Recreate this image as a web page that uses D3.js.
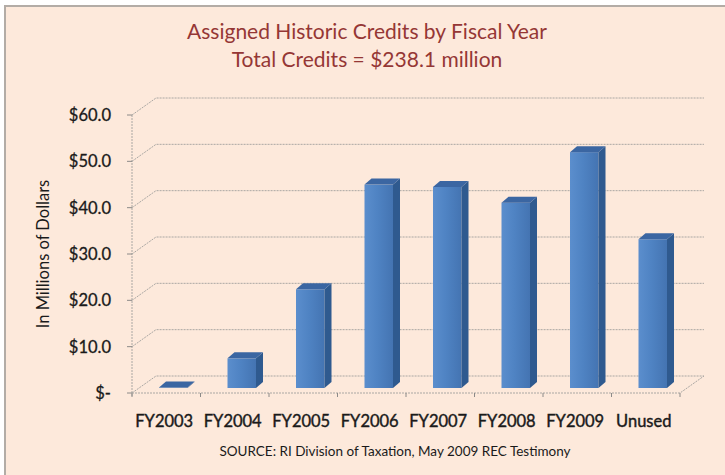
<!DOCTYPE html>
<html>
<head>
<meta charset="utf-8">
<script src="https://cdn.jsdelivr.net/npm/d3@7"></script>
<style>
  html, body { margin: 0; padding: 0; background: #fff; }
  svg { display: block; font-family: Lato, "Open Sans", sans-serif; }
</style>
</head>
<body>
<svg id="chart" width="725" height="475"></svg>
<script>
// chart data
const categories = ["FY2003", "FY2004", "FY2005", "FY2006", "FY2007", "FY2008", "FY2009", "Unused"];
const credits = [0.1, 6.4, 21.3, 43.9, 43.4, 40.0, 50.9, 32.1];
const yTicks = [0, 10, 20, 30, 40, 50, 60];
const yTickLabels = ["$-", "$10.0", "$20.0", "$30.0", "$40.0", "$50.0", "$60.0"];

const svg = d3.select("#chart");

// panel
svg.append("rect")
    .attr("x", 5).attr("y", 6)
    .attr("width", 740).attr("height", 490)
    .attr("fill", "#fde9db")
    .attr("stroke", "#b3aca6")
    .attr("stroke-width", 2);

// title
const title = svg.append("text")
    .attr("text-anchor", "middle")
    .attr("fill", "#953735")
    .style("font-size", "21px");
title.append("tspan").attr("x", 367).attr("y", 39).text("Assigned Historic Credits by Fiscal Year");
title.append("tspan").attr("x", 367).attr("y", 67).text("Total Credits = $238.1 million");

// 3d-ish geometry
const depthX = 24, depthY = -17;   // back wall offset
const x = d3.scaleBand().domain(categories).range([132, 680]).padding(0);
const y = d3.scaleLinear().domain([0, 60]).range([393, 115]);

const grid = svg.append("g")
    .attr("fill", "none")
    .attr("stroke", "#aaa7a3")
    .attr("stroke-width", 1)
    .attr("stroke-dasharray", "2,1");

// side wall diagonals + back wall lines
yTicks.forEach(t => {
    const yy = y(t);
    grid.append("path")
        .attr("d", `M132,${yy}L${132 + depthX},${yy + depthY}L${680 + depthX},${yy + depthY}`);
});
// front axis and floor
grid.append("line").attr("x1", 132).attr("x2", 132).attr("y1", y(60)).attr("y2", y(0) + 4);
grid.append("path").attr("d", `M132,${y(0)}L680,${y(0)}L${680 + depthX},${y(0) + depthY}`);

// y axis ticks
svg.append("g")
    .attr("stroke", "#8c8a88")
    .selectAll("line")
    .data(yTicks)
    .join("line")
    .attr("x1", 127).attr("x2", 132)
    .attr("y1", d => y(d)).attr("y2", d => y(d));

// x axis ticks
svg.append("g")
    .attr("stroke", "#8c8a88")
    .selectAll("line")
    .data(categories.concat(["end"]))
    .join("line")
    .attr("x1", (d, i) => 132 + i * x.step())
    .attr("x2", (d, i) => 132 + i * x.step())
    .attr("y1", y(0)).attr("y2", y(0) + 4);

// y tick labels
svg.append("g")
    .selectAll("text")
    .data(yTicks)
    .join("text")
    .attr("x", 111)
    .attr("y", d => y(d) + 6)
    .attr("text-anchor", "end")
    .attr("fill", "#1a1a1a")
    .attr("stroke", "#1a1a1a")
    .attr("stroke-width", 0.3)
    .style("font-size", "16.5px")
    .text((d, i) => yTickLabels[i]);

// y axis title
svg.append("text")
    .attr("transform", "translate(49,254) rotate(-90)")
    .attr("text-anchor", "middle")
    .attr("fill", "#1a1a1a")
    .style("font-size", "16.5px")
    .text("In Millions of Dollars");

// category labels
svg.append("g")
    .selectAll("text")
    .data(categories)
    .join("text")
    .attr("x", d => x(d) + x.bandwidth() / 2 - 2)
    .attr("y", 427)
    .attr("text-anchor", "middle")
    .attr("fill", "#1a1a1a")
    .attr("stroke", "#1a1a1a")
    .attr("stroke-width", 0.4)
    .style("font-size", "16.5px")
    .text(d => d);

// source
svg.append("text")
    .attr("x", 395).attr("y", 456)
    .attr("text-anchor", "middle")
    .attr("fill", "#1a1a1a")
    .style("font-size", "13.5px")
    .text("SOURCE: RI Division of Taxation, May 2009 REC Testimony");

// bars
const defs = svg.append("defs");
const grad = defs.append("linearGradient").attr("id", "barFront");
grad.append("stop").attr("offset", "0%").attr("stop-color", "#5b8ecd");
grad.append("stop").attr("offset", "45%").attr("stop-color", "#4f83c3");
grad.append("stop").attr("offset", "100%").attr("stop-color", "#4474b2");

const barW = 28.5, barDx = 7, barDy = -6;
const shiftX = 7, shiftY = -5;   // bars sit a bit behind the front plane

const bars = svg.append("g")
    .selectAll("g")
    .data(categories.map((c, i) => ({ cat: c, v: credits[i] })))
    .join("g");

bars.each(function(d) {
    const g = d3.select(this);
    const x0 = x(d.cat) + x.bandwidth() / 2 + shiftX - barW / 2;
    const x1 = x0 + barW;
    const yb = y(0) + shiftY;
    const yt = y(d.v) + shiftY;
    // front
    g.append("rect")
        .attr("x", x0).attr("y", yt)
        .attr("width", barW).attr("height", yb - yt)
        .attr("fill", "url(#barFront)");
    // side
    g.append("path")
        .attr("d", `M${x1},${yt}L${x1 + barDx},${yt + barDy}L${x1 + barDx},${yb + barDy}L${x1},${yb}Z`)
        .attr("fill", "#2f5a8f");
    // top
    g.append("path")
        .attr("d", `M${x0},${yt}L${x0 + barDx},${yt + barDy}L${x1 + barDx},${yt + barDy}L${x1},${yt}Z`)
        .attr("fill", "#3b66a2");
});
</script>
</body>
</html>
